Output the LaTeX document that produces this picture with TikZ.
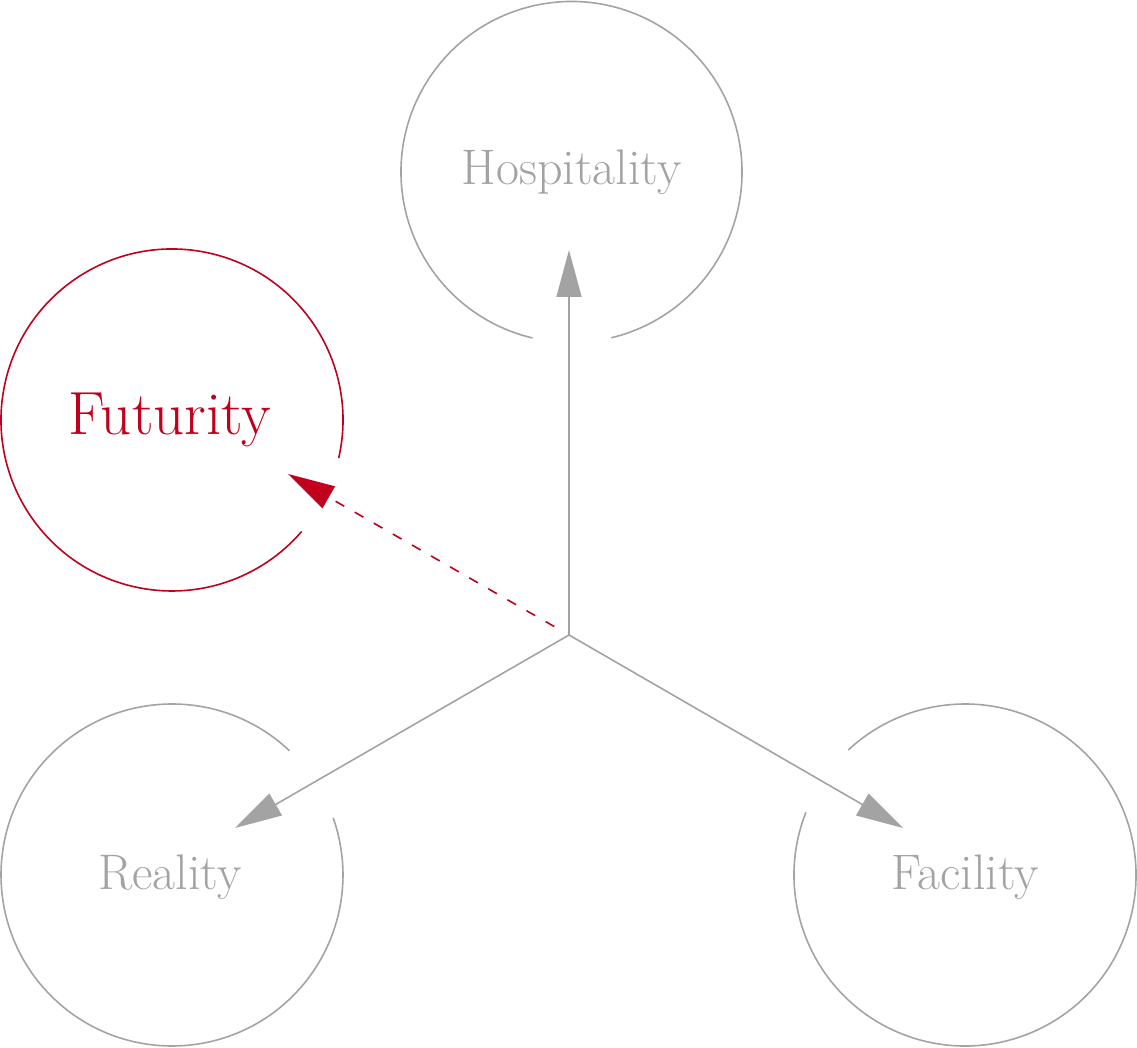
\documentclass[tikz,border=0pt]{standalone}
\usetikzlibrary{arrows.meta,calc}
\definecolor{cgray}{RGB}{163,163,163}
\definecolor{cred}{RGB}{192,0,28}
\begin{document}
\begin{tikzpicture}[x=1pt,y=1pt,
  ring/.style={line width=1.6pt},
  lab/.style={font=\fontsize{50}{56}\selectfont},
  conn/.style={line width=1.6pt,-{Triangle[length=47pt,width=25pt]}}]
\useasboundingbox (0,0) rectangle (1137,1048);
% labels
\node[lab,text=cgray] (hosp) at (571.5,876) {Hospitality};
\node[lab,text=cred,font=\fontsize{61}{66}\selectfont] (fut) at (170,628) {Futurity};
\node[lab,text=cgray] (real) at (170,171) {Reality};
\node[lab,text=cgray] (fac) at (965,171) {Facility};
\coordinate (c) at (569,413);
\coordinate (th) at (569,798);
\coordinate (tf) at (288,574);
\coordinate (tr) at (235,220);
\coordinate (tfa) at (903,220);
\coordinate (cs) at ($(c)!17pt!(tf)$);
% rings
\draw[ring,cgray] (571.5,876) ++(283.5:170.5) arc[start angle=283.5,end angle=616.8,radius=170.5];
\draw[ring,cred] (172,628) ++(-12.9:171) arc[start angle=-12.9,end angle=319.3,radius=171];
\draw[ring,cgray] (172,173) ++(46.6:171) arc[start angle=46.6,end angle=379.5,radius=171];
\draw[ring,cgray] (965,173) ++(158.5:171) arc[start angle=158.5,end angle=493,radius=171];
% connectors
\draw[conn,cgray] (c) -- (th);
\draw[conn,cgray] (c) -- (tr);
\draw[conn,cgray] (c) -- (tfa);
\draw[conn,cred,dash pattern=on 10pt off 12pt] (cs) -- (tf);
\end{tikzpicture}
\end{document}
